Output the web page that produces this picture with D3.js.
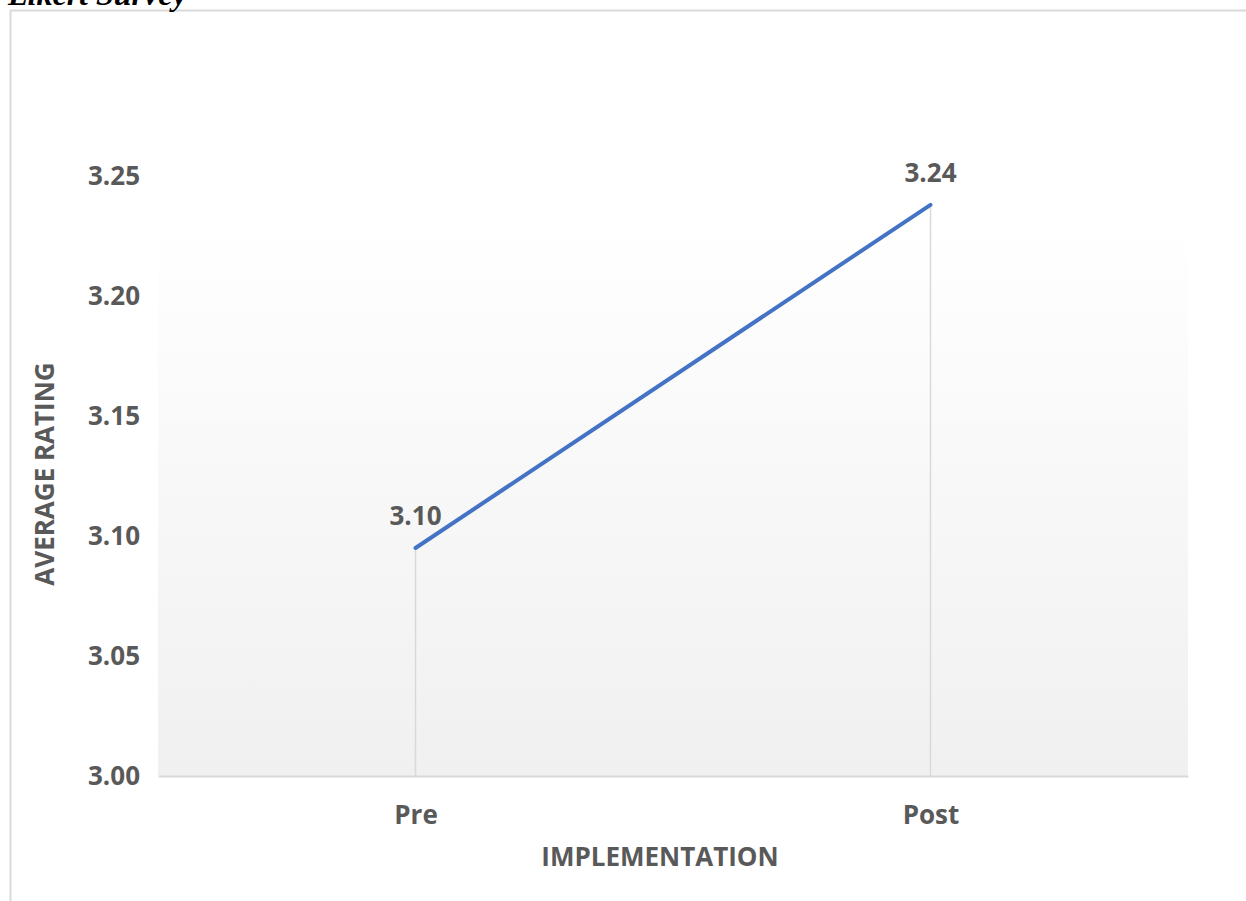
<!DOCTYPE html>
<html>
<head>
<meta charset="utf-8">
<script src="https://cdn.jsdelivr.net/npm/d3@7"></script>
<style>
  body { margin: 0; background: #fff; }
</style>
</head>
<body>
<div id="chart"></div>
<script>
// chart data
var categories = ["Pre", "Post"];
var values = [3.095, 3.238];
var valueLabels = ["3.10", "3.24"];
var yTicks = [3.00, 3.05, 3.10, 3.15, 3.20, 3.25];

var svgWidth = 1246, svgHeight = 901;
var margin = { top: 176, right: 58, bottom: 125, left: 158 },
    chartWidth = svgWidth - margin.left - margin.right,
    chartHeight = svgHeight - margin.top - margin.bottom;
var fontSize = 26;

var svg = d3.select("#chart").append("svg")
    .attr("width", svgWidth)
    .attr("height", svgHeight);

// gradient for plot area
var defs = svg.append("defs");
var grad = defs.append("linearGradient")
    .attr("id", "bg").attr("x1", 0).attr("y1", 0).attr("x2", 0).attr("y2", 1);
grad.append("stop").attr("offset", "0%").attr("stop-color", "#ffffff");
grad.append("stop").attr("offset", "8%").attr("stop-color", "#ffffff");
grad.append("stop").attr("offset", "100%").attr("stop-color", "#f0f0f0");

// outer chart border (partly out of frame)
svg.append("rect")
    .attr("x", 10.5).attr("y", 10.5)
    .attr("width", 1260).attr("height", 920)
    .attr("fill", "none")
    .attr("stroke", "#d9d9d9")
    .attr("stroke-width", 2);

// title, cut off at top like the source
svg.append("text")
    .attr("x", 8).attr("y", 5)
    .attr("font-family", "Liberation Serif")
    .attr("font-style", "italic")
    .attr("font-weight", "bold")
    .attr("font-size", 32)
    .attr("fill", "#000")
    .text("Likert Survey");

var g = svg.append("g").attr("transform", `translate(${margin.left}, ${margin.top})`);

var x = d3.scalePoint().domain(categories).range([0, chartWidth]).padding(0.5);
var y = d3.scaleLinear().domain([3.0, 3.25]).range([chartHeight, 0]);

g.append("rect")
    .attr("width", chartWidth)
    .attr("height", chartHeight)
    .attr("fill", "url(#bg)");

// drop lines
g.selectAll(".drop")
    .data(values)
    .enter()
    .append("line")
        .attr("x1", function(d, i) { return x(categories[i]); })
        .attr("x2", function(d, i) { return x(categories[i]); })
        .attr("y1", function(d) { return y(d); })
        .attr("y2", chartHeight)
        .attr("stroke", "#d9d9d9")
        .attr("stroke-width", 1.5);

// y axis (labels only)
var yAxis = g.append("g")
    .call(d3.axisLeft(y).tickValues(yTicks).tickFormat(d3.format(".2f")).tickSize(0).tickPadding(18));
yAxis.select(".domain").remove();
yAxis.selectAll("text")
    .attr("font-family", "Open Sans")
    .attr("font-weight", "bold")
    .attr("font-size", fontSize)
    .attr("fill", "#595959");

// x axis
var xAxis = g.append("g")
    .attr("transform", `translate(0, ${chartHeight})`)
    .call(d3.axisBottom(x).tickSize(0).tickPadding(30));
xAxis.select(".domain").attr("stroke", "#d9d9d9").attr("stroke-width", 2);
xAxis.selectAll("text")
    .attr("font-family", "Open Sans")
    .attr("font-weight", "bold")
    .attr("font-size", fontSize)
    .attr("fill", "#595959");

// the line
var line = d3.line()
    .x(function(d, i) { return x(categories[i]); })
    .y(function(d) { return y(d); });

g.append("path")
    .datum(values)
    .attr("d", line)
    .attr("fill", "none")
    .attr("stroke", "#4472C4")
    .attr("stroke-width", 4)
    .attr("stroke-linecap", "round");

// data labels
g.selectAll(".lbl")
    .data(values)
    .enter()
    .append("text")
        .attr("x", function(d, i) { return x(categories[i]); })
        .attr("y", function(d) { return y(d) - 23; })
        .attr("text-anchor", "middle")
        .attr("font-family", "Open Sans")
        .attr("font-weight", "bold")
        .attr("font-size", fontSize)
        .attr("fill", "#595959")
        .text(function(d, i) { return valueLabels[i]; });

// axis titles
svg.append("text")
    .attr("x", margin.left + chartWidth / 2 - 13)
    .attr("y", 866)
    .attr("text-anchor", "middle")
    .attr("font-family", "Open Sans")
    .attr("font-weight", "bold")
    .attr("font-size", fontSize)
    .attr("fill", "#595959")
    .text("IMPLEMENTATION");

svg.append("text")
    .attr("transform", "translate(54, 474) rotate(-90)")
    .attr("text-anchor", "middle")
    .attr("font-family", "Open Sans")
    .attr("font-weight", "bold")
    .attr("font-size", fontSize)
    .attr("fill", "#595959")
    .text("AVERAGE RATING");
</script>
</body>
</html>
